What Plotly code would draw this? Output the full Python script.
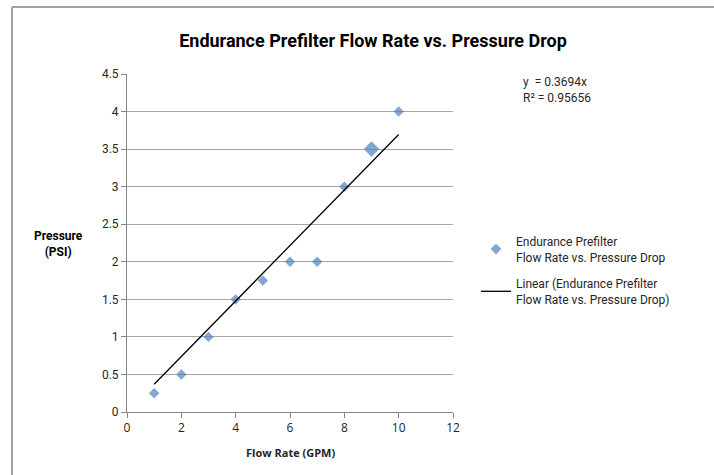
import plotly.graph_objects as go

# Data
flow_rate = [1, 2, 3, 4, 5, 6, 7, 8, 9, 10]
pressure = [0.25, 0.5, 1.0, 1.5, 1.75, 2.0, 2.0, 3.0, 3.5, 4.0]
slope = 0.3694
r_squared = 0.95656
trend_x = [1, 10]
x_ticks = [0, 2, 4, 6, 8, 10, 12]
y_ticks = [0, 0.5, 1, 1.5, 2, 2.5, 3, 3.5, 4, 4.5]

series_name = "Endurance Prefilter<br>Flow Rate vs. Pressure Drop"
trend_name = "Linear (Endurance Prefilter<br>Flow Rate vs. Pressure Drop)"

W, H = 714, 475
L, R, T, B = 127, 261, 74, 63
pw, ph = W - L - R, H - T - B

def px(xp):
    return (xp - L) / pw

def py(yp):
    return (H - B - yp) / ph

blue = "#4F81BD"
txt = "#262626"
base_font = "Roboto, DejaVu Sans, sans-serif"

sizes = [8] * len(flow_rate)
sizes[8] = 12

fig = go.Figure()
fig.add_trace(go.Scatter(
    x=flow_rate, y=pressure, mode="markers", name=series_name,
    marker=dict(symbol="diamond", color=blue, size=sizes, line=dict(width=0)),
    legendgroup="a",
))
fig.add_trace(go.Scatter(
    x=trend_x, y=[slope * v for v in trend_x], mode="lines", name=trend_name,
    line=dict(color="black", width=1.3),
    legendgroup="b",
))

fig.update_layout(
    width=W, height=H,
    margin=dict(l=L, r=R, t=T, b=B),
    paper_bgcolor="white", plot_bgcolor="white",
    font=dict(family=base_font, size=12, color=txt),
    title=dict(text="<b>Endurance Prefilter Flow Rate vs. Pressure Drop</b>",
               x=373 / W, xanchor="center", y=1 - 41 / H, yanchor="middle",
               font=dict(family="Roboto, sans-serif", size=18, color="black")),
    showlegend=True,
    legend=dict(x=px(476), y=py(227), xanchor="left", yanchor="top",
                font=dict(size=12, color=txt), tracegroupgap=8,
                bgcolor="rgba(0,0,0,0)"),
    xaxis=dict(range=[0, 12], tickvals=x_ticks, showgrid=False, zeroline=False,
               showline=True, linecolor="#868686", linewidth=1,
               ticks="outside", ticklen=5, tickcolor="#868686",
               tickfont=dict(family="Open Sans, sans-serif", size=12, color=txt)),
    yaxis=dict(range=[0, 4.5], tickvals=y_ticks, showgrid=True, gridcolor="#A6A6A6",
               gridwidth=1, zeroline=False,
               showline=True, linecolor="#868686", linewidth=1,
               ticks="outside", ticklen=5, tickcolor="#868686",
               tickfont=dict(size=12, color=txt)),
)

fig.add_annotation(text="<b>Flow Rate (GPM)</b>", xref="paper", yref="paper",
                   x=px(290), y=py(452), showarrow=False, xanchor="center", yanchor="middle",
                   font=dict(family="Open Sans, sans-serif", size=11, color=txt))
fig.add_annotation(text="<b>Pressure<br>(PSI)</b>", xref="paper", yref="paper",
                   x=px(58), y=py(244), showarrow=False, xanchor="center", yanchor="middle",
                   font=dict(size=12, color="black"))
fig.add_annotation(text=f"y  = {slope}x<br>R² = {r_squared}", xref="paper", yref="paper",
                   x=px(557), y=py(90), showarrow=False, align="left",
                   xanchor="center", yanchor="middle",
                   font=dict(size=12, color=txt))

# chart border
border = dict(color="#A0A0A0", width=2)
fig.add_shape(type="line", xref="paper", yref="paper", x0=px(12), x1=px(W + 5),
              y0=py(7), y1=py(7), line=border)
fig.add_shape(type="line", xref="paper", yref="paper", x0=px(12), x1=px(12),
              y0=py(7), y1=py(H + 5), line=border)

fig.write_html("out.html", config={"displayModeBar": False},
               post_script="document.body.style.margin='0';")
